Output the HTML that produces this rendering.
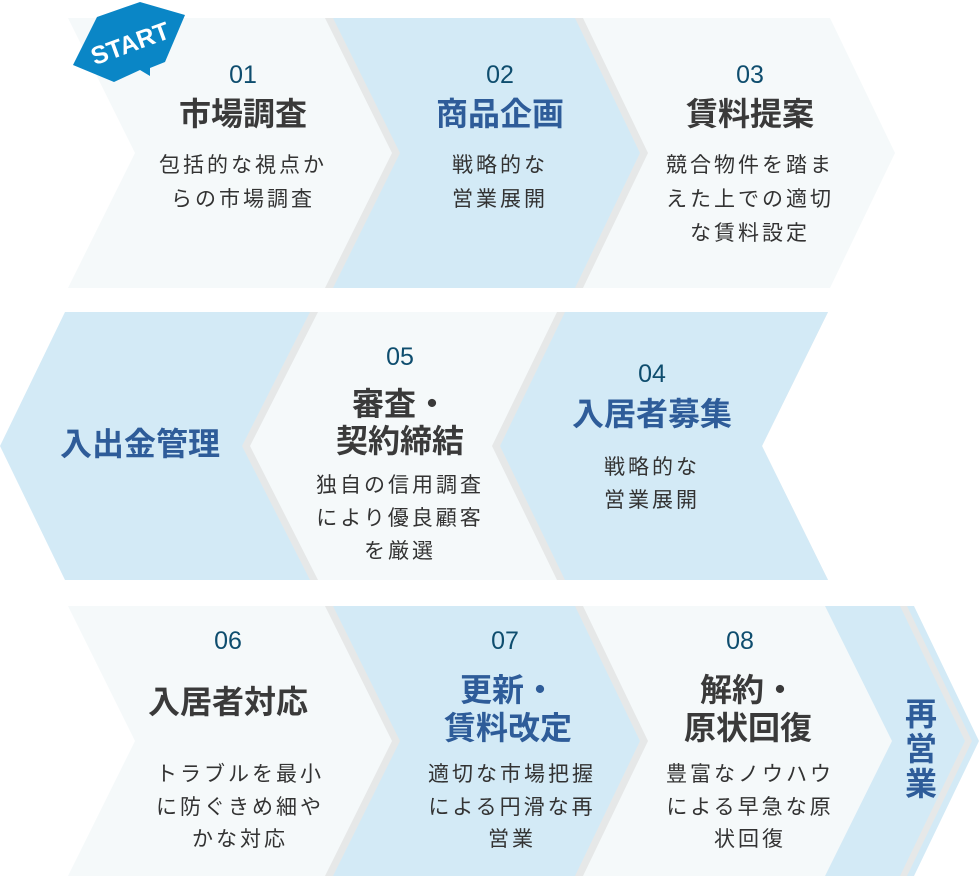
<!DOCTYPE html>
<html><head><meta charset="utf-8"><style>
html,body{margin:0;padding:0;background:#fff;width:980px;height:878px;overflow:hidden}
svg text{font-family:"Liberation Sans","Noto Sans CJK JP",sans-serif;text-anchor:middle}
.n{font-size:25px;fill:#0e4d6e;font-weight:500}
.t{font-size:32px;font-weight:bold;fill:#3a3a3a}
.b{font-size:32px;font-weight:bold;fill:#2e5c99}
.d{font-size:21px;fill:#333;letter-spacing:3px}
</style></head><body>
<svg width="980" height="878" viewBox="0 0 980 878" xmlns="http://www.w3.org/2000/svg">
<!-- Row 1 -->
<polygon points="575,18 830,18 895,153 830,288 575,288 640,153" fill="#f5f9fa"/>
<polygon points="333,18 583,18 648,153 583,288 333,288 398,153" fill="#e6e8e8"/>
<polygon points="325,18 575,18 640,153 575,288 325,288 390,153" fill="#d3eaf6"/>
<polygon points="76,18 333,18 400,153 333,288 76,288 143,153" fill="#e6e8e8"/>
<polygon points="68,18 325,18 392,153 325,288 68,288 135,153" fill="#f5f9fa"/>
<!-- Row 2 -->
<polygon points="65,312 330,312 330,580 65,580 0,446" fill="#d3eaf6"/>
<polygon points="310,312 565,312 500,446 565,580 310,580 242,446" fill="#e6e8e8"/>
<polygon points="318,312 565,312 500,446 565,580 318,580 250,446" fill="#f5f9fa"/>
<polygon points="557,312 828,312 762,446 828,580 557,580 492,446" fill="#e6e8e8"/>
<polygon points="565,312 828,312 762,446 828,580 565,580 500,446" fill="#d3eaf6"/>
<!-- Row 3 -->
<polygon points="825,606 914,606 979,741 914,876 825,876 890,741" fill="#d3eaf6"/>
<polygon points="825,606 907,606 972,741 907,876 825,876 890,741" fill="#e6e8e8"/>
<polygon points="825,606 900,606 965,741 900,876 825,876 890,741" fill="#d3eaf6"/>
<polygon points="575,606 825,606 892,741 825,876 575,876 640,741" fill="#f5f9fa"/>
<polygon points="333,606 583,606 648,741 583,876 333,876 398,741" fill="#e6e8e8"/>
<polygon points="325,606 575,606 640,741 575,876 325,876 390,741" fill="#d3eaf6"/>
<polygon points="76,606 333,606 400,741 333,876 76,876 143,741" fill="#e6e8e8"/>
<polygon points="68,606 325,606 392,741 325,876 68,876 135,741" fill="#f5f9fa"/>
<!-- START -->
<polygon points="73,65 97,17 140,2 185,15 165,62 150,68 150,76 140,70 114,82" fill="#0a86c6"/>
<text x="130" y="52" transform="rotate(-20 130 43)" style="font-size:25px;font-weight:bold;fill:#fff">START</text>
<!-- Row1 text -->
<text class="n" x="243" y="83">01</text>
<text class="t" x="243" y="125">市場調査</text>
<text class="d" x="243" y="172">包括的な視点か</text>
<text class="d" x="243" y="206">らの市場調査</text>
<text class="n" x="500" y="83">02</text>
<text class="b" x="500" y="125">商品企画</text>
<text class="d" x="500" y="172">戦略的な</text>
<text class="d" x="500" y="206">営業展開</text>
<text class="n" x="750" y="83">03</text>
<text class="t" x="750" y="125">賃料提案</text>
<text class="d" x="750" y="172">競合物件を踏ま</text>
<text class="d" x="750" y="206">えた上での適切</text>
<text class="d" x="750" y="240">な賃料設定</text>
<!-- Row2 text -->
<text class="b" x="140" y="455">入出金管理</text>
<text class="n" x="400" y="365">05</text>
<text class="t" x="400" y="415">審査・</text>
<text class="t" x="400" y="452">契約締結</text>
<text class="d" x="400" y="492">独自の信用調査</text>
<text class="d" x="400" y="525">により優良顧客</text>
<text class="d" x="400" y="558">を厳選</text>
<text class="n" x="652" y="382">04</text>
<text class="b" x="652" y="425">入居者募集</text>
<text class="d" x="652" y="474">戦略的な</text>
<text class="d" x="652" y="507">営業展開</text>
<!-- Row3 text -->
<text class="n" x="228" y="649">06</text>
<text class="t" x="228" y="713">入居者対応</text>
<text class="d" x="240" y="781">トラブルを最小</text>
<text class="d" x="240" y="814">に防ぐきめ細や</text>
<text class="d" x="240" y="846">かな対応</text>
<text class="n" x="505" y="649">07</text>
<text class="b" x="508" y="701">更新・</text>
<text class="b" x="508" y="739">賃料改定</text>
<text class="d" x="512" y="781">適切な市場把握</text>
<text class="d" x="512" y="814">による円滑な再</text>
<text class="d" x="512" y="846">営業</text>
<text class="n" x="740" y="649">08</text>
<text class="t" x="748" y="701">解約・</text>
<text class="t" x="748" y="739">原状回復</text>
<text class="d" x="750" y="781">豊富なノウハウ</text>
<text class="d" x="750" y="814">による早急な原</text>
<text class="d" x="750" y="846">状回復</text>
<text class="b" x="921" y="725">再</text>
<text class="b" x="921" y="760">営</text>
<text class="b" x="921" y="795">業</text>
</svg>
</body></html>
